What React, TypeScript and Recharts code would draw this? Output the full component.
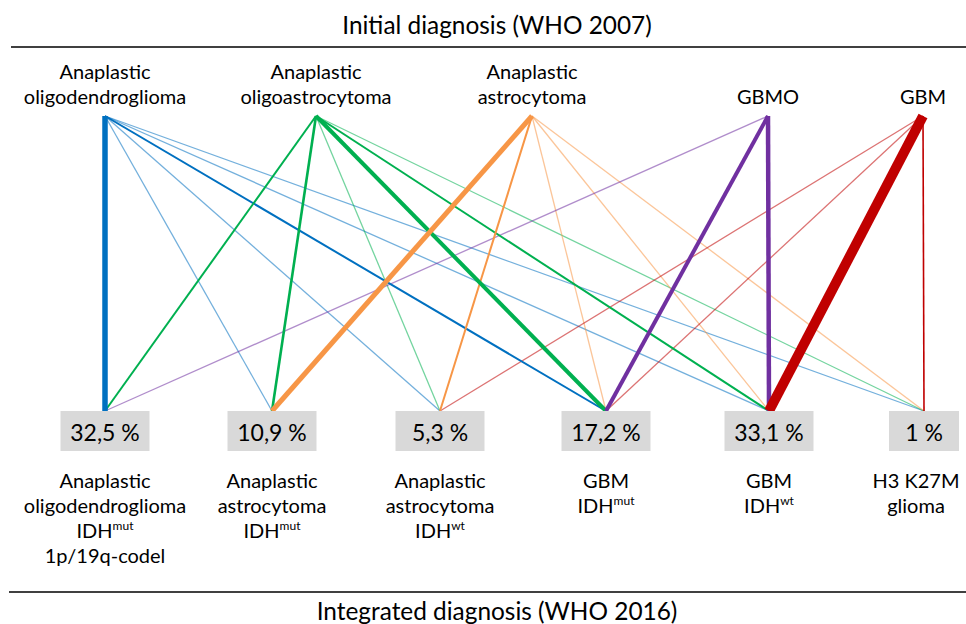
import React from 'react';
import { ComposedChart, Line, Scatter, XAxis, YAxis } from 'recharts';

// ---- data ----
const initialDiagnoses = [
  ['Anaplastic', 'oligodendroglioma'],
  ['Anaplastic', 'oligoastrocytoma'],
  ['Anaplastic', 'astrocytoma'],
  ['GBMO'],
  ['GBM'],
];
const integratedDiagnoses = [
  [['Anaplastic'], ['oligodendroglioma'], ['IDH', 'mut'], ['1p/19q-codel']],
  [['Anaplastic'], ['astrocytoma'], ['IDH', 'mut']],
  [['Anaplastic'], ['astrocytoma'], ['IDH', 'wt']],
  [['GBM'], ['IDH', 'mut']],
  [['GBM'], ['IDH', 'wt']],
  [['H3 K27M'], ['glioma']],
];
const integratedPercents = ['32,5 %', '10,9 %', '5,3 %', '17,2 %', '33,1 %', '1 %'];
const linkFrom = [0, 0, 0, 0, 0, 0, 1, 1, 1, 1, 1, 1, 2, 2, 2, 2, 2, 3, 3, 3, 4, 4, 4, 4];
const linkTo = [0, 1, 2, 3, 4, 5, 0, 1, 2, 3, 4, 5, 1, 2, 3, 4, 5, 0, 3, 4, 2, 3, 4, 5];
const linkWeight = [5.5, 1, 1, 2, 1, 1, 2, 2.6, 1, 4, 2, 1, 5, 2, 1, 1, 1, 1, 4, 4.5, 1, 1, 10, 1.6];

// ---- layout / style ----
const topX = [105, 316, 532, 768, 923];
const bottomX = [105, 272, 440, 606, 769, 924];
const sourceColors = ['#0070C0', '#00B050', '#F79646', '#7030A0', '#C00000'];
const FONT = 'Lato, "Open Sans", sans-serif';
const W = 966;
const H = 624;

const topNodes = initialDiagnoses.map((lines, i) => ({ x: topX[i], y: 1, lines }));
const bottomNodes = integratedDiagnoses.map((lines, i) => ({
  x: bottomX[i],
  y: 0,
  lines,
  pct: integratedPercents[i],
}));

const links = linkFrom
  .map((f, i) => ({ f, t: linkTo[i], w: linkWeight[i], i }))
  .sort((a, b) => a.w - b.w);

const TopLabel = (props: any) => {
  const { cx, cy, payload } = props;
  const lines: string[] = payload.lines;
  const n = lines.length;
  return (
    <g>
      {lines.map((s, k) => (
        <text
          key={k}
          x={cx}
          y={cy - 12 - (n - 1 - k) * 25}
          textAnchor="middle"
          fontFamily={FONT}
          fontSize={20}
          fill="#000"
        >
          {s}
        </text>
      ))}
    </g>
  );
};

const BottomLabel = (props: any) => {
  const { cx, cy, payload } = props;
  const lines: string[][] = payload.lines;
  const pct: string = payload.pct;
  const bw = pct.length <= 3 ? 70 : 89;
  const tx = payload.x === bottomX[5] ? cx - 8 : cx;
  return (
    <g>
      <rect x={cx - bw / 2} y={cy} width={bw} height={40} fill="#D9D9D9" />
      <text x={cx} y={cy + 30} textAnchor="middle" fontFamily={FONT} fontSize={23} fill="#000">
        {pct}
      </text>
      {lines.map((ln, k) => (
        <text
          key={k}
          x={tx}
          y={cy + 77 + k * 25}
          textAnchor="middle"
          fontFamily={FONT}
          fontSize={20}
          fill="#000"
        >
          {ln[0]}
          {ln[1] ? (
            <tspan fontSize={12} dy={-8}>
              {ln[1]}
            </tspan>
          ) : null}
        </text>
      ))}
    </g>
  );
};

export default function App() {
  return (
    <div style={{ position: 'absolute', left: 0, top: 0, width: W, height: H, background: '#fff' }}>
      <ComposedChart
        width={W}
        height={H}
        margin={{ top: 116, bottom: H - 411, left: 0, right: 0 }}
      >
        <XAxis type="number" dataKey="x" domain={[0, W]} hide />
        <YAxis type="number" dataKey="y" domain={[0, 1]} hide />
        {links.map((l) => (
          <Line
            key={`link-${l.i}`}
            data={[
              { x: topX[l.f], y: 1 },
              { x: bottomX[l.t], y: 0 },
            ]}
            dataKey="y"
            stroke={sourceColors[l.f]}
            strokeWidth={l.w <= 1 ? 1.3 : l.w}
            strokeOpacity={l.w <= 1 ? 0.55 : 1}
            dot={false}
            activeDot={false}
            isAnimationActive={false}
            type="linear"
          />
        ))}
        <Scatter data={topNodes} dataKey="y" shape={TopLabel} isAnimationActive={false} />
        <Scatter data={bottomNodes} dataKey="y" shape={BottomLabel} isAnimationActive={false} />
      </ComposedChart>
      <svg
        width={W}
        height={H}
        style={{ position: 'absolute', left: 0, top: 0, pointerEvents: 'none' }}
      >
        <text x={497} y={34} textAnchor="middle" fontFamily={FONT} fontSize={24.4} fill="#000">
          Initial diagnosis (WHO 2007)
        </text>
        <line x1={11} x2={W} y1={47} y2={47} stroke="#404040" strokeWidth={2} />
        <line x1={9} x2={W} y1={592} y2={592} stroke="#404040" strokeWidth={2} />
        <text x={497} y={620} textAnchor="middle" fontFamily={FONT} fontSize={24.4} fill="#000">
          Integrated diagnosis (WHO 2016)
        </text>
      </svg>
    </div>
  );
}
